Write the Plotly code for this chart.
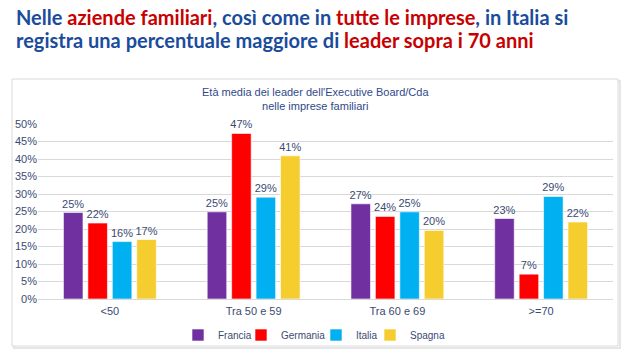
import plotly.graph_objects as go

categories = ["<50", "Tra 50 e 59", "Tra 60 e 69", ">=70"]
series_names = ["Francia", "Germania", "Italia", "Spagna"]
francia = [24.7, 24.9, 27.2, 23.0]
germania = [21.7, 47.3, 23.6, 7.1]
italia = [16.4, 29.1, 24.9, 29.3]
spagna = [17.0, 40.9, 19.6, 22.0]
series_values = [francia, germania, italia, spagna]
colors = ["#7030A0", "#FF0000", "#00B0F0", "#F5CD2F"]
tick_vals = [0, 5, 10, 15, 20, 25, 30, 35, 40, 45, 50]
tick_text = [f"{v}%" for v in tick_vals]

W, H = 640, 353
L, R, T, B = 38, 27, 124, 54
pw, ph = W - L - R, H - T - B


def px(x):
    return (x - L) / pw


def py(y):
    return (H - B - y) / ph


label_color = "#3B4A73"
font_family = "Liberation Sans, Arial, sans-serif"

legend_ids = ["legend", "legend2", "legend3", "legend4"]
legend_left_px = [178, 241, 316, 370]

fig = go.Figure()
for name, vals, col, lid in zip(series_names, series_values, colors, legend_ids):
    fig.add_trace(go.Bar(
        x=categories, y=vals, name=name, legend=lid,
        marker=dict(color=col, line=dict(color="rgba(255,255,255,0.6)", width=1)),
        text=[f"{round(v)}%" for v in vals], textposition="outside",
        textfont=dict(size=11, color=label_color, family=font_family),
        cliponaxis=False,
    ))

# chart box with shadow
fig.add_shape(type="rect", xref="paper", yref="paper",
              x0=px(14), x1=px(620), y0=py(348), y1=py(81),
              line=dict(color="#E6E6E6", width=2), fillcolor="rgba(0,0,0,0)", layer="below")
fig.add_shape(type="rect", xref="paper", yref="paper",
              x0=px(12), x1=px(618), y0=py(346), y1=py(79),
              line=dict(color="#D9D9D9", width=1), fillcolor="white", layer="below")

blue, red = "#1B4C9C", "#C80000"
head_font = dict(size=20, family="Lato, Liberation Sans, sans-serif", weight="bold")
line1 = (f"<span style='color:{blue}'>Nelle </span><span style='color:{red}'>aziende familiari</span>"
         f"<span style='color:{blue}'>, così come in </span><span style='color:{red}'>tutte le imprese</span>"
         f"<span style='color:{blue}'>, in Italia si</span>")
line2 = (f"<span style='color:{blue}'>registra una percentuale maggiore di </span>"
         f"<span style='color:{red}'>leader sopra i 70 anni</span>")
fig.add_annotation(xref="paper", yref="paper", x=px(14), y=py(17), xanchor="left", yanchor="middle",
                   text=line1, showarrow=False, align="left", font=head_font)
fig.add_annotation(xref="paper", yref="paper", x=px(14), y=py(40), xanchor="left", yanchor="middle",
                   text=line2, showarrow=False, align="left", font=head_font)

fig.add_annotation(xref="paper", yref="paper", x=px(315), y=py(98.5), xanchor="center", yanchor="middle",
                   text="Età media dei leader dell'Executive Board/Cda<br>nelle imprese familiari",
                   showarrow=False, align="center",
                   font=dict(size=11, color="#2F4A8A", family=font_family))

legend_common = dict(orientation="v", xref="container", yref="container",
                     xanchor="left", yanchor="middle", y=1 - 335 / H,
                     font=dict(size=10, color=label_color, family=font_family),
                     bgcolor="rgba(0,0,0,0)", borderwidth=0)
layout_legends = {}
for lid, lx in zip(legend_ids, legend_left_px):
    layout_legends[lid] = dict(legend_common, x=lx / W)

fig.update_layout(
    width=W, height=H,
    margin=dict(l=L, r=R, t=T, b=B, autoexpand=False),
    paper_bgcolor="white", plot_bgcolor="white",
    barmode="group", bargap=0.32, bargroupgap=0.2,
    uniformtext=dict(minsize=11, mode="show"),
    showlegend=True,
    xaxis=dict(showgrid=False, showline=False, ticks="", ticklabelstandoff=4,
               tickfont=dict(size=11, color=label_color, family=font_family)),
    yaxis=dict(range=[0, 50], tickvals=tick_vals, ticktext=tick_text,
               showgrid=True, gridcolor="#D9D9D9", gridwidth=1,
               zeroline=True, zerolinecolor="#D9D9D9", zerolinewidth=1,
               tickfont=dict(size=11, color=label_color, family=font_family)),
    **layout_legends,
)

fig.write_html("out.html")
